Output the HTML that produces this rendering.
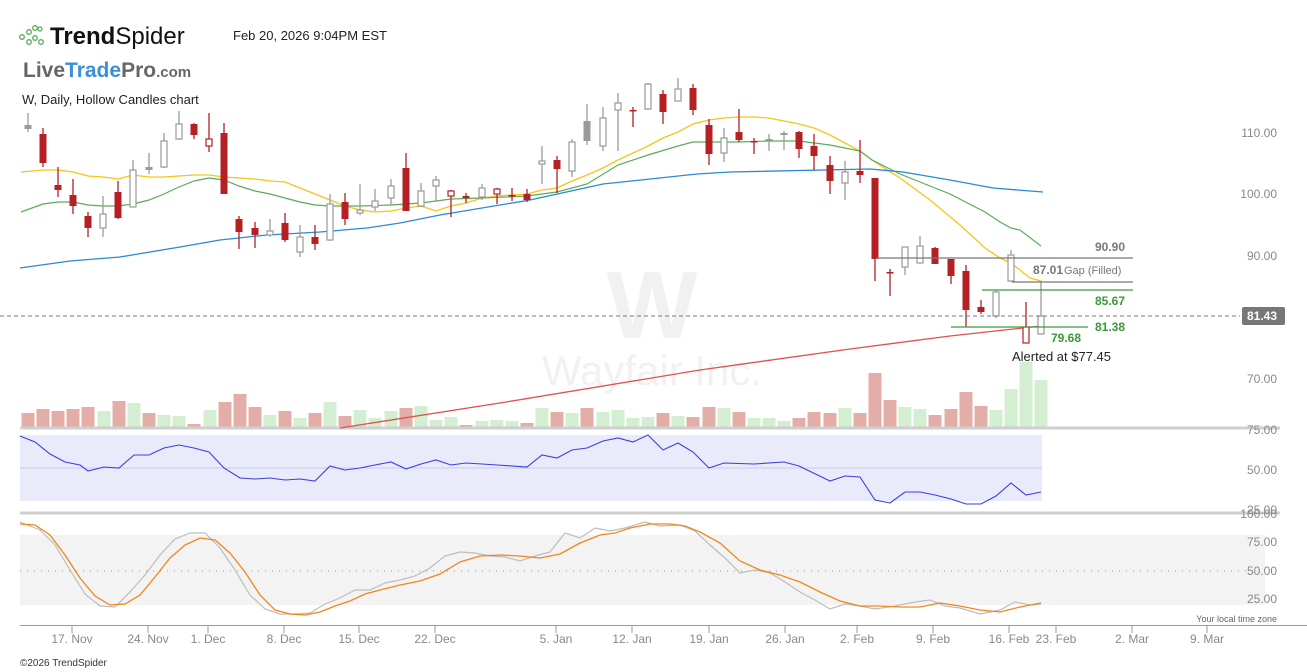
<!DOCTYPE html>
<html><head><meta charset="utf-8"><style>
html,body{margin:0;padding:0;background:#fff;width:1307px;height:672px;overflow:hidden}
svg text{font-family:"Liberation Sans",sans-serif}
</style></head><body>
<svg id="s" width="1307" height="672" xmlns="http://www.w3.org/2000/svg">
<rect width="1307" height="672" fill="#fff"/>
<text x="652" y="338" text-anchor="middle" font-size="96" font-weight="bold" fill="#f1f1f1">W</text>
<text x="652" y="385" text-anchor="middle" font-size="42" fill="#f1f1f1">Wayfair Inc.</text>
<g fill="none" stroke="#5aa95a" stroke-width="1.3">
<circle cx="22" cy="37" r="2.3"/><circle cx="29" cy="32" r="2.3"/><circle cx="35" cy="28" r="2.3"/><circle cx="35" cy="38" r="2.3"/><circle cx="41" cy="42" r="2.3"/><circle cx="29" cy="42" r="2.3"/><circle cx="40" cy="29" r="2"/>
</g>
<text x="50" y="44" font-size="24" fill="#111"><tspan font-weight="bold">Trend</tspan>Spider</text>
<text x="233" y="40" font-size="13" fill="#222">Feb 20, 2026 9:04PM EST</text>
<text x="23" y="77" font-size="21" font-weight="bold" fill="#666">Live<tspan fill="#3a8fd6">Trade</tspan>Pro<tspan font-size="15">.com</tspan></text>
<text x="22" y="104" font-size="13" fill="#222">W, Daily, Hollow Candles chart</text>
<g id="g"></g>
</svg>
<script>
const g=document.getElementById('g');let h='';
function pl(pts,c,w,extra){h+=`<polyline fill="none" stroke="${c}" stroke-width="${w||1.2}" ${extra||''} points="${pts.map(p=>p.join(',')).join(' ')}"/>`;}
function ln(x1,y1,x2,y2,c,w,e){h+=`<line x1="${x1}" y1="${y1}" x2="${x2}" y2="${y2}" stroke="${c}" stroke-width="${w||1}" ${e||''}/>`;}
function tx(x,y,t,s,c,e){h+=`<text x="${x}" y="${y}" font-size="${s}" fill="${c}" ${e||''}>${t}</text>`;}
const vol=[[28,413,'r'],[43,409,'r'],[58,411,'r'],[73,409,'r'],[88,407,'r'],[104,411,'g'],[119,401,'r'],[134,403,'g'],[149,413,'r'],[164,415,'g'],[179,416,'g'],[194,424,'r'],[210,410,'g'],[225,402,'r'],[240,394,'r'],[255,407,'r'],[270,415,'g'],[285,411,'r'],[300,418,'g'],[315,413,'r'],[330,402,'g'],[345,416,'r'],[360,410,'g'],[375,418,'g'],[391,411,'g'],[406,408,'r'],[421,406,'g'],[436,420,'g'],[451,417,'g'],[466,425,'r'],[482,421,'g'],[497,420,'g'],[512,421,'g'],[527,423,'r'],[542,408,'g'],[557,412,'r'],[572,413,'g'],[587,408,'r'],[603,412,'g'],[618,410,'g'],[633,418,'g'],[648,417,'g'],[663,413,'r'],[678,416,'g'],[693,417,'r'],[709,407,'r'],[724,408,'g'],[739,412,'r'],[754,418,'g'],[769,418,'g'],[784,421,'g'],[799,418,'r'],[814,412,'r'],[830,413,'r'],[845,408,'g'],[860,413,'r'],[875,373,'r'],[890,400,'r'],[905,407,'g'],[920,409,'g'],[935,415,'r'],[951,409,'r'],[966,392,'r'],[981,406,'r'],[996,410,'g'],[1011,389,'g'],[1026,362,'g'],[1041,380,'g']];
vol.forEach(v=>{h+=`<rect x="${v[0]-6.5}" y="${v[1]}" width="13" height="${427-v[1]}" fill="${v[2]=='r'?'#e3aea8':'#d3eed0'}"/>`;});
ln(20,428,1280,428,'#cfcfcf',3);
pl([[340,428],[500,403],[700,370],[850,349],[950,336],[1041,326]],'#e05050',1.3);
pl([[21,172],[43,170],[58,170],[73,172],[88,176],[103,177],[118,179],[133,175],[149,177],[164,177],[179,176],[194,175],[209,175],[224,177],[239,178],[255,179],[270,181],[285,182],[300,188],[315,194],[330,200],[345,206],[360,210],[375,212],[391,211],[406,208],[421,206],[436,211],[451,206],[466,203],[482,198],[497,196],[527,194],[542,190],[557,188],[572,181],[587,175],[603,168],[618,160],[633,153],[648,146],[663,138],[678,132],[693,124],[709,120],[724,118],[739,117],[754,117],[769,118],[784,121],[799,124],[814,128],[830,135],[845,143],[860,151],[872,160],[900,178],[930,200],[960,225],[985,248],[1000,258],[1011,263],[1020,270],[1030,278],[1041,281]],'#f5c518',1.3);
pl([[21,212],[43,204],[58,202],[73,202],[88,205],[103,206],[118,206],[133,204],[149,200],[164,194],[179,187],[194,181],[209,178],[224,180],[239,186],[255,191],[270,194],[285,198],[300,202],[315,205],[330,206],[360,206],[391,205],[421,203],[451,199],[482,198],[527,196],[557,192],[587,184],[618,165],[648,155],[678,146],[693,142],[709,142],[739,142],[769,141],[799,141],[830,145],[860,151],[872,160],[900,174],[950,194],[985,212],[1000,222],[1011,228],[1020,230],[1041,246]],'#5aac5a',1.2);
pl([[20,268],[70,261],[120,257],[180,247],[220,240],[267,235],[320,232],[367,228],[400,223],[440,215],[530,200],[603,184],[697,174],[730,172],[870,169],[903,172],[950,180],[993,188],[1043,192]],'#2a8ad6',1.3);
const C=[[28,125,129,113,132,'g'],[43,134,163,128,167,'r'],[58,185,190,167,197,'r'],[73,195,206,179,214,'r'],[88,216,228,212,237,'r'],[103,214,228,196,237,'h'],[118,192,218,181,219,'r'],[133,170,207,160,207,'h'],[149,167,170,153,174,'g'],[164,141,167,133,168,'h'],[179,124,139,111,140,'h'],[194,124,135,123,139,'r'],[209,139,146,113,152,'rh'],[224,133,194,123,194,'r'],[239,219,232,216,249,'r'],[255,228,235,222,248,'r'],[270,231,235,219,237,'h'],[285,223,240,213,242,'r'],[300,237,252,225,257,'h'],[315,237,244,225,250,'r'],[330,204,240,194,241,'h'],[345,202,219,193,225,'r'],[360,210,213,184,215,'h'],[375,201,207,189,211,'h'],[391,186,198,179,205,'h'],[406,168,211,153,211,'r'],[421,191,206,183,207,'h'],[436,180,186,176,201,'h'],[451,191,196,190,217,'rh'],[466,196,198,193,203,'r'],[482,188,197,184,200,'h'],[497,189,194,188,204,'rh'],[512,195,196,188,201,'r'],[527,194,200,189,202,'r'],[542,161,164,146,184,'h'],[557,160,169,156,193,'r'],[572,142,171,139,177,'h'],[587,121,141,104,145,'g'],[603,118,146,107,151,'h'],[618,103,110,93,151,'h'],[633,110,111,107,127,'r'],[648,84,109,83,110,'h'],[663,94,112,90,124,'r'],[678,89,101,78,101,'h'],[693,88,110,84,115,'r'],[709,125,154,119,165,'r'],[724,138,153,128,162,'h'],[739,132,140,109,142,'r'],[754,141,142,138,154,'r'],[769,139,140,134,151,'g'],[784,133,135,131,150,'g'],[799,132,149,131,158,'r'],[814,146,156,134,170,'r'],[830,165,181,156,194,'r'],[845,172,183,161,200,'h'],[860,171,175,140,183,'r'],[875,178,259,178,281,'r'],[890,272,273,269,296,'r'],[905,247,267,247,275,'h'],[920,246,263,236,263,'h'],[935,248,264,247,264,'r'],[951,259,276,259,284,'r'],[966,271,310,265,327,'r'],[981,307,312,300,314,'r'],[996,292,316,290,318,'h'],[1011,255,281,250,282,'h'],[1026,327,343,302,343,'rh'],[1041,316,334,281,334,'h']];
C.forEach(c=>{const[x,o,cl,hi,lo,t]=c;const col=(t=='r'||t=='rh')?'#b52025':'#9a9a9a';
ln(x,hi,x,lo,col,1.3);const top=Math.min(o,cl),ht=Math.max(Math.abs(cl-o),1.5);
if(t=='r'||t=='g')h+=`<rect x="${x-3.5}" y="${top}" width="7" height="${ht}" fill="${col}"/>`;
else h+=`<rect x="${x-3}" y="${top}" width="6" height="${ht}" fill="#fff" stroke="${col}" stroke-width="1.2"/>`;});
ln(0,316,1240,316,'#777',1,'stroke-dasharray="4,3"');
ln(876,258,1133,258,'#777',1.2);ln(1012,282,1133,282,'#777',1.2);
ln(982,290,1133,290,'#3a9a3a',1.2);ln(951,327,1088,327,'#3a9a3a',1.2);
tx(1095,251,'90.90',12,'#777','font-weight="bold"');
tx(1033,274,'87.01',12,'#777','font-weight="bold"');tx(1064,274,'Gap (Filled)',11,'#777');
tx(1095,305,'85.67',12,'#3a9a3a','font-weight="bold"');
tx(1095,331,'81.38',12,'#3a9a3a','font-weight="bold"');
tx(1051,342,'79.68',12,'#3a9a3a','font-weight="bold"');
tx(1012,361,'Alerted at $77.45',13,'#222');
h+=`<rect x="1242" y="307" width="43" height="18" rx="2" fill="#777"/>`;tx(1247,320,'81.43',12,'#fff','font-weight="bold"');
h+=`<rect x="20" y="435" width="1022" height="66" fill="#e9ebfb"/>`;ln(20,468,1042,468,'#c8cbe8',1);
pl([[20,436],[35,442],[50,454],[65,462],[80,465],[88,471],[104,467],[119,468],[134,455],[149,455],[164,448],[179,445],[194,448],[209,452],[224,468],[240,478],[255,479],[270,478],[285,480],[300,479],[315,481],[330,466],[345,470],[360,468],[375,465],[391,462],[406,469],[421,464],[436,460],[451,465],[466,463],[482,464],[497,465],[527,467],[542,455],[557,458],[572,450],[587,448],[603,441],[618,438],[633,442],[648,435],[663,450],[678,443],[693,452],[709,468],[724,463],[754,464],[784,462],[799,466],[830,481],[845,476],[860,477],[875,500],[890,503],[905,492],[920,492],[935,495],[951,499],[966,504],[981,504],[996,496],[1011,483],[1026,495],[1041,492]],'#3d3de0',1.1);
ln(20,513,1280,513,'#cfcfcf',3);
h+=`<rect x="20" y="535" width="1245" height="70" fill="#f3f3f3"/>`;ln(20,571,1265,571,'#999',1,'stroke-dasharray="1,6"');
pl([[20,522],[40,530],[55,545],[70,570],[85,594],[100,606],[115,607],[130,592],[145,575],[160,555],[175,539],[190,533],[205,533],[220,548],[235,570],[250,595],[265,609],[280,614],[295,614],[310,613],[325,604],[340,598],[355,590],[370,590],[385,583],[400,580],[415,576],[430,568],[445,556],[460,552],[475,553],[490,556],[505,557],[520,561],[535,556],[550,552],[565,533],[580,538],[595,528],[610,531],[625,528],[645,522],[660,526],[680,525],[695,531],[710,545],[725,558],[740,573],[755,570],[770,573],[785,582],[800,592],[815,600],[830,609],[845,604],[860,606],[875,609],[895,606],[915,602],[930,600],[945,606],[960,608],[980,614],[1000,610],[1015,602],[1030,605],[1041,604]],'#bdbdbd',1.2);
pl([[20,524],[35,525],[50,535],[65,555],[80,578],[95,596],[110,605],[125,604],[140,595],[155,577],[170,558],[185,545],[200,538],[215,540],[230,553],[245,572],[260,595],[275,610],[290,614],[305,615],[320,612],[335,606],[350,601],[365,594],[380,590],[400,585],[420,581],[440,574],[460,562],[480,556],[500,555],[520,556],[540,558],[560,554],[580,543],[600,535],[615,533],[630,528],[650,524],[670,524],[685,526],[700,532],[720,543],[740,561],[760,570],[780,575],[800,582],[820,592],[840,601],[860,606],[880,606],[900,607],[920,607],[940,603],[960,606],[980,610],[1000,612],[1020,607],[1041,603]],'#f0871a',1.3);
[[137,'110.00'],[198,'100.00'],[260,'90.00'],[383,'70.00'],[434,'75.00'],[474,'50.00'],[514,'25.00'],[518,'100.00'],[546,'75.00'],[575,'50.00'],[603,'25.00']].forEach(a=>tx(1277,a[0],a[1],12,'#888','text-anchor="end"'));
tx(1277,622,'Your local time zone',9,'#666','text-anchor="end"');
ln(20,625.5,1307,625.5,'#999',1);
[[72,'17. Nov'],[148,'24. Nov'],[208,'1. Dec'],[284,'8. Dec'],[359,'15. Dec'],[435,'22. Dec'],[556,'5. Jan'],[632,'12. Jan'],[709,'19. Jan'],[785,'26. Jan'],[857,'2. Feb'],[933,'9. Feb'],[1009,'16. Feb'],[1056,'23. Feb'],[1132,'2. Mar'],[1207,'9. Mar']].forEach(a=>{ln(a[0],626,a[0],633,'#999',1);tx(a[0],643,a[1],12,'#888','text-anchor="middle"');});
tx(20,666,'©2026 TrendSpider',10,'#333');
g.innerHTML=h;
</script>
</body></html>
